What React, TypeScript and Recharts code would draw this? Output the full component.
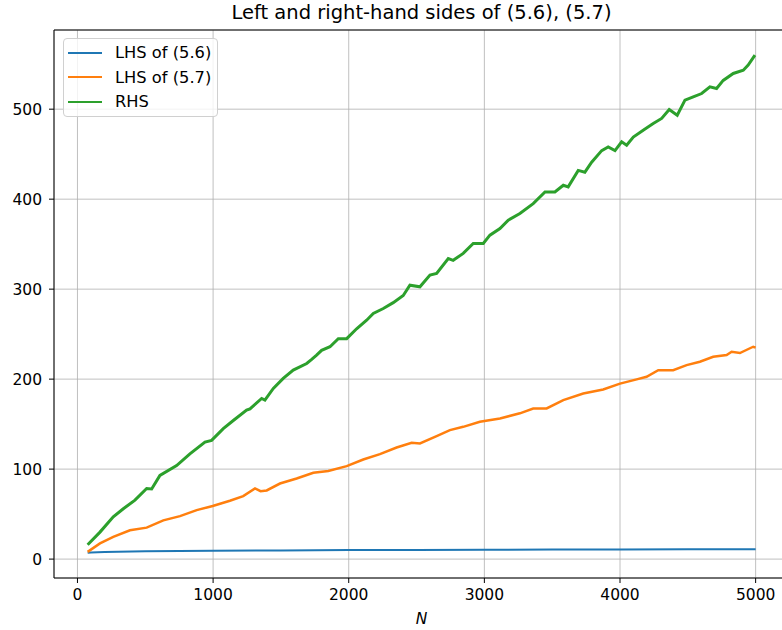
import React from 'react';
import { LineChart, Line, XAxis, YAxis, CartesianGrid, ReferenceLine } from 'recharts';

// values
const lhs56N = [75, 100, 200, 300, 500, 750, 1000, 1500, 2000, 2500, 3000, 3500, 4000, 4500, 5000];
const lhs56V = [7.0, 7.4, 8.0, 8.3, 8.7, 9.0, 9.3, 9.7, 10.0, 10.2, 10.4, 10.6, 10.8, 10.9, 11.0];

const lhs57N = [75, 166, 264, 387, 510, 633, 756, 879, 997, 1124, 1222, 1309, 1350, 1395, 1493, 1616, 1739, 1849, 1985, 2107, 2230, 2353, 2464, 2525, 2648, 2746, 2844, 2967, 3115, 3262, 3360, 3459, 3582, 3729, 3876, 4000, 4123, 4196, 4282, 4392, 4491, 4589, 4687, 4786, 4823, 4884, 4982, 5000];
const lhs57V = [8, 17.4, 24.8, 32, 35, 43, 47.8, 54.4, 59, 64.8, 70, 78.5, 75.5, 76.3, 84, 89.6, 96, 98, 103.3, 110.7, 116.7, 124, 129.3, 128.5, 136.7, 143.3, 147, 152.6, 156.3, 162, 167.4, 167.4, 176.7, 184, 188.5, 195, 199.7, 202.6, 210, 210, 215.6, 219.3, 224.8, 226.7, 230.4, 229, 236, 235];

const rhsN = [75, 166, 264, 338, 424, 510, 547, 608, 731, 829, 940, 989, 1075, 1149, 1247, 1272, 1358, 1382, 1444, 1517, 1591, 1690, 1727, 1763, 1800, 1862, 1923, 1985, 2058, 2132, 2181, 2255, 2328, 2402, 2451, 2525, 2599, 2648, 2734, 2770, 2844, 2918, 2992, 3041, 3115, 3176, 3262, 3360, 3447, 3520, 3582, 3618, 3692, 3741, 3791, 3865, 3913, 3963, 4012, 4049, 4098, 4171, 4245, 4307, 4363, 4422, 4479, 4540, 4602, 4663, 4712, 4761, 4835, 4909, 4945, 4995];
const rhsV = [16, 30, 47, 56, 65.5, 78.5, 78, 93, 104, 117, 130, 132, 145, 154, 165.5, 167, 178.5, 176.7, 189.7, 200.8, 210, 217.4, 222, 226.7, 232, 236, 245, 245, 256, 265.5, 273, 278.5, 285, 293, 304.4, 302.6, 315.6, 317.4, 334, 332, 339.7, 350.8, 350.8, 360, 367.4, 376.7, 384, 395, 408, 408, 415.5, 413.7, 432, 430, 441, 454, 458, 454, 463.7, 460, 469, 476.7, 484, 489.7, 499.7, 493.3, 510, 513.7, 517.4, 524.8, 523, 532, 539.7, 543.3, 549, 560];

const xTicks = [0, 1000, 2000, 3000, 4000, 5000];
const yTicks = [0, 100, 200, 300, 400, 500];

const series = [
  { name: 'LHS of (5.6)', color: '#1f77b4', width: 2, data: lhs56N.map((n, i) => ({ n, v: lhs56V[i] })) },
  { name: 'LHS of (5.7)', color: '#ff7f0e', width: 2.5, data: lhs57N.map((n, i) => ({ n, v: lhs57V[i] })) },
  { name: 'RHS', color: '#2ca02c', width: 3, data: rhsN.map((n, i) => ({ n, v: rhsV[i] })) },
];

const font = 'DejaVu Sans, sans-serif';

export default function App() {
  return (
    <div style={{ position: 'absolute', left: 0, top: 0, width: 782, height: 630, overflow: 'hidden', background: '#fff', fontFamily: font }}>
      <div style={{ position: 'absolute', left: 0, width: 843, top: 1, textAlign: 'center', fontSize: 19.5, color: '#000' }}>
        Left and right-hand sides of (5.6), (5.7)
      </div>
      <LineChart width={800} height={630} margin={{ top: 30, right: 11, left: 0, bottom: 0 }}>
        <CartesianGrid stroke="#b0b0b0" strokeWidth={0.8} />
        <XAxis
          type="number"
          dataKey="n"
          domain={[-173, 5246]}
          allowDataOverflow
          ticks={xTicks}
          height={52}
          tickSize={5}
          tickMargin={6}
          stroke="#000"
          tick={{ fill: '#000', fontSize: 15.5, fontFamily: font }}
          label={{ value: 'N', position: 'insideBottom', offset: 6, style: { fontStyle: 'italic', fill: '#000', fontSize: 15.5, fontFamily: font } }}
        />
        <YAxis
          type="number"
          domain={[-21, 588]}
          allowDataOverflow
          ticks={yTicks}
          width={54}
          tickSize={5}
          tickMargin={7}
          stroke="#000"
          tick={{ fill: '#000', fontSize: 15.5, fontFamily: font }}
        />
        <ReferenceLine y={588} stroke="#000" strokeWidth={1} />
        {series.map((s) => (
          <Line
            key={s.name}
            data={s.data}
            dataKey="v"
            type="linear"
            stroke={s.color}
            strokeWidth={s.width}
            dot={false}
            isAnimationActive={false}
          />
        ))}
      </LineChart>
      <div
        style={{
          position: 'absolute',
          left: 63,
          top: 38,
          width: 155,
          height: 79,
          border: '1px solid #d0d0d0',
          borderRadius: 4,
          background: 'rgba(255,255,255,0.8)',
          boxSizing: 'border-box',
        }}
      >
        {series.map((s, i) => (
          <div key={s.name} style={{ position: 'absolute', left: 4, top: 4 + i * 24.5, height: 19, display: 'flex', alignItems: 'center' }}>
            <div style={{ width: 34, height: 2, background: s.color }} />
            <span style={{ marginLeft: 13, fontSize: 16.3, color: '#000', whiteSpace: 'nowrap' }}>{s.name}</span>
          </div>
        ))}
      </div>
    </div>
  );
}
